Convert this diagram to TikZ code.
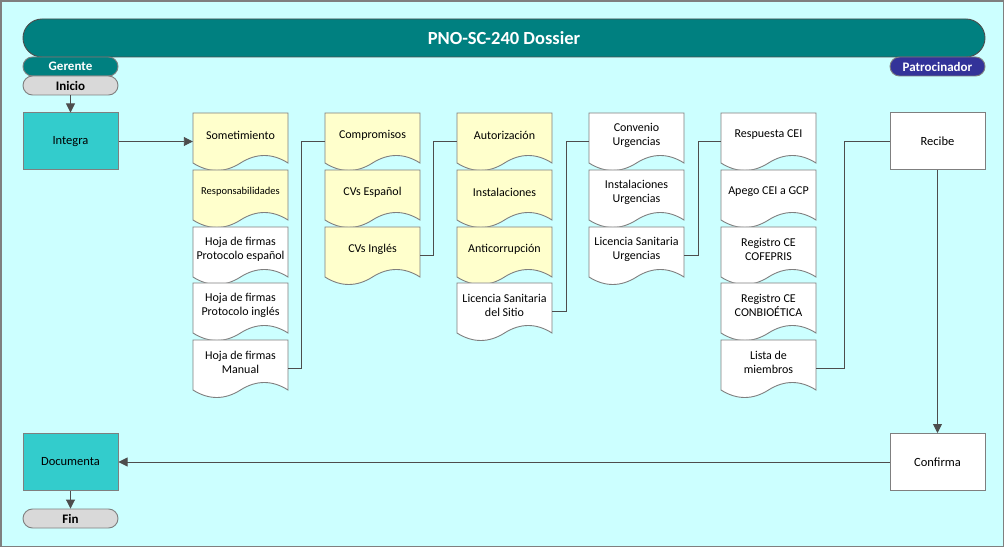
\documentclass[tikz,border=0pt]{standalone}
\usepackage{fontspec}
\setmainfont{Carlito}
\usetikzlibrary{arrows.meta}
\definecolor{bgc}{HTML}{CCFFFF}
\definecolor{tealc}{HTML}{008080}
\definecolor{procc}{HTML}{33CCCC}
\definecolor{pillg}{HTML}{D9D9D9}
\definecolor{bluec}{HTML}{333399}
\definecolor{yelc}{HTML}{FFFFCC}
\definecolor{edgec}{HTML}{7F7F7F}
\definecolor{linec}{HTML}{4D4D4D}
\tikzset{
  pill/.style={rectangle, rounded corners=9.5pt, draw=edgec, line width=0.9pt,
    minimum width=95pt, minimum height=19pt, inner sep=0pt,
    font=\fontsize{13}{14}\selectfont\bfseries},
  procbox/.style={rectangle, draw=edgec, line width=1pt, minimum width=95pt,
    minimum height=57pt, inner sep=0pt, font=\fontsize{12.5}{14}\selectfont},
  docnode/.style={rectangle, draw=none, minimum width=95pt, minimum height=57pt, inner sep=0pt},
  docline/.style={draw=edgec, line width=0.9pt},
  doctext/.style={align=center, font=\fontsize{12}{14}\selectfont, yshift=6.5pt, inner sep=0pt},
  conn/.style={draw=linec, line width=0.9pt},
  arr/.style={conn, -{Triangle[length=9pt,width=9pt]}},
}
% name, x-left, y-top, fill, text
\newcommand\docu[5]{%
  \draw[docline, fill=#4] (#2,#3) -- ++(95,0) -- ++(0,50)
    .. controls +(-15.8pt,10pt) and +(15.8pt,10pt) .. ++(-47.5,0)
    .. controls +(-15.8pt,-10pt) and +(15.8pt,-10pt) .. ++(-47.5,0) -- cycle;
  \node[docnode, label={[doctext]center:{#5}}] (#1) at (#2+47.5,#3+28.5) {};
}
\begin{document}
\begin{tikzpicture}[x=1pt, y=-1pt]
\useasboundingbox (0,0) rectangle (1005,548);
\draw[draw=edgec, line width=1.5pt, fill=bgc] (1,1) rectangle (1003.5,546.5);
% header
\node[rectangle, rounded corners=19pt, draw=linec, line width=0.9pt, fill=tealc,
  minimum width=962pt, minimum height=38pt, inner sep=0pt, text=white,
  font=\fontsize{18.5}{20}\selectfont\bfseries] (title) at (504,38) {PNO-SC-240 Dossier};
\node[pill, fill=tealc, text=white] (gerente) at (70.5,66.5) {Gerente};
\node[pill, fill=bluec, text=white] (patro) at (937.5,66.5) {Patrocinador};
\node[pill, fill=pillg] (inicio) at (70.5,85.5) {Inicio};
% process boxes
\node[procbox, fill=procc] (integra) at (70.5,141.5) {Integra};
\node[procbox, fill=procc] (documenta) at (70.5,462) {Documenta};
\node[pill, fill=pillg] (fin) at (70.5,518.5) {Fin};
\node[procbox, fill=white] (recibe) at (937.5,141.5) {Recibe};
\node[procbox, fill=white] (confirma) at (937.5,462) {Confirma};
% documents column 1
\docu{d11}{193}{113}{yelc}{Sometimiento}
\docu{d12}{193}{170}{yelc}{\fontsize{10.5}{12}\selectfont Responsabilidades}
\docu{d13}{193}{227}{white}{Hoja de firmas\\Protocolo español}
\docu{d14}{193}{283}{white}{Hoja de firmas\\Protocolo inglés}
\docu{d15}{193}{340}{white}{Hoja de firmas\\Manual}
% column 2
\docu{d21}{325}{113}{yelc}{Compromisos}
\docu{d22}{325}{170}{yelc}{CVs Español}
\docu{d23}{325}{227}{yelc}{CVs Inglés}
% column 3
\docu{d31}{457}{113}{yelc}{Autorización}
\docu{d32}{457}{170}{yelc}{Instalaciones}
\docu{d33}{457}{227}{yelc}{Anticorrupción}
\docu{d34}{457}{283}{white}{Licencia Sanitaria\\del Sitio}
% column 4
\docu{d41}{589}{113}{white}{Convenio\\Urgencias}
\docu{d42}{589}{170}{white}{Instalaciones\\Urgencias}
\docu{d43}{589}{227}{white}{Licencia Sanitaria\\Urgencias}
% column 5
\docu{d51}{721}{113}{white}{Respuesta CEI}
\docu{d52}{721}{170}{white}{Apego CEI a GCP}
\docu{d53}{721}{227}{white}{Registro CE\\COFEPRIS}
\docu{d54}{721}{283}{white}{Registro CE\\CONBIOÉTICA}
\docu{d55}{721}{340}{white}{Lista de\\miembros}
% connectors
\draw[arr] (inicio.south) -- (integra.north);
\draw[arr] (integra.east) -- (d11.west);
\draw[conn] (d15.east) -- ++(13,0) |- (d21.west);
\draw[conn] (d23.east) -- ++(13,0) |- (d31.west);
\draw[conn] (d34.east) -- ++(14,0) |- (d41.west);
\draw[conn] (d43.east) -- ++(14,0) |- (d51.west);
\draw[conn] (d55.east) -- ++(28,0) |- (recibe.west);
\draw[arr] (recibe.south) -- (confirma.north);
\draw[arr] (confirma.west) -- (documenta.east);
\draw[arr] (documenta.south) -- (fin.north);
\end{tikzpicture}
\end{document}
